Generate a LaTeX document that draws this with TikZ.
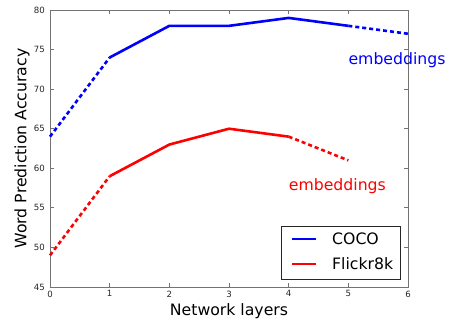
\documentclass[tikz,border=0pt]{standalone}
\usepackage{fontspec}
\setmainfont{DejaVu Sans}
\usetikzlibrary{positioning}
\definecolor{cocoblue}{RGB}{0,0,255}
\definecolor{flickrred}{RGB}{255,0,0}

\begin{document}
\begin{tikzpicture}[x=1pt,y=1pt,
		curve/.style={line width=2.6pt},
		dashpart/.style={curve,dash pattern=on 4pt off 3pt},
		frame/.style={draw=black!55,line width=0.8pt},
		ticklabel/.style={font=\fontsize{8.6}{10}\selectfont,text=black!85,inner sep=0pt},
		biglabel/.style={font=\fontsize{15.7}{18}\selectfont,inner sep=0pt}]
		\useasboundingbox (0,0) rectangle (449,325);
		
		% Axes in data coordinates (layer, accuracy)
		\begin{scope}[x=59.67pt,y=7.914pt,shift={(50pt,-318.13pt)}]
			% Frame
			\draw[frame] (0,45) rectangle (6,80);
			
			% Ticks and tick labels
			\foreach \l in {0,...,6} {
				\draw[frame] (\l,45) -- ++(0,4pt);
				\draw[frame] (\l,80) -- ++(0,-4pt);
				\node[ticklabel,below=3.5pt] (xt\l) at (\l,45) {\l};
			}
			\foreach \a in {45,50,...,80} {
				\draw[frame] (0,\a) -- ++(4pt,0);
				\draw[frame] (6,\a) -- ++(-4pt,0);
				\node[ticklabel,left=5pt] (yt\a) at (0,\a) {\a};
			}
			
			% COCO
			\draw[dashpart,cocoblue] (0,64) -- (1,74);
			\draw[curve,cocoblue] (1,74) -- (2,78) -- (3,78) -- (4,79) -- (5,78);
			\draw[dashpart,cocoblue] (5,78) -- (6,77);
			
			% Flickr8k
			\draw[dashpart,flickrred] (0,49) -- (1,59);
			\draw[curve,flickrred] (1,59) -- (2,63) -- (3,65) -- (4,64);
			\draw[dashpart,flickrred] (4,64) -- (5,61);
			
			% Labels
			\node[biglabel,anchor=west,text=cocoblue] (embcoco) at (5,73.68) {embeddings};
			\node[biglabel,anchor=west,text=flickrred] (embflickr) at (4,57.76) {embeddings};
		\end{scope}
		
		% Axis titles
		\node[biglabel] (xlabel) at (229,14) {Network layers};
		\node[biglabel,rotate=90] (ylabel) at (22,176.5) {Word Prediction Accuracy};
		
		% Legend
		\node[draw=black!85,line width=0.8pt,minimum width=119pt,minimum height=53pt,inner sep=0pt] (legend) at (340.5,72.5) {};
		\coordinate (cocoA) at (292,86);
		\coordinate (cocoB) at (316,86);
		\coordinate (flickrA) at (292,61);
		\coordinate (flickrB) at (316,61);
		\draw[curve,cocoblue] (cocoA) -- (cocoB);
		\draw[curve,flickrred] (flickrA) -- (flickrB);
		\node[biglabel,anchor=west] (cocotext) at (332,86) {COCO};
		\node[biglabel,anchor=west] (flickrtext) at (332,61) {Flickr8k};
		
	\end{tikzpicture}
\end{document}
